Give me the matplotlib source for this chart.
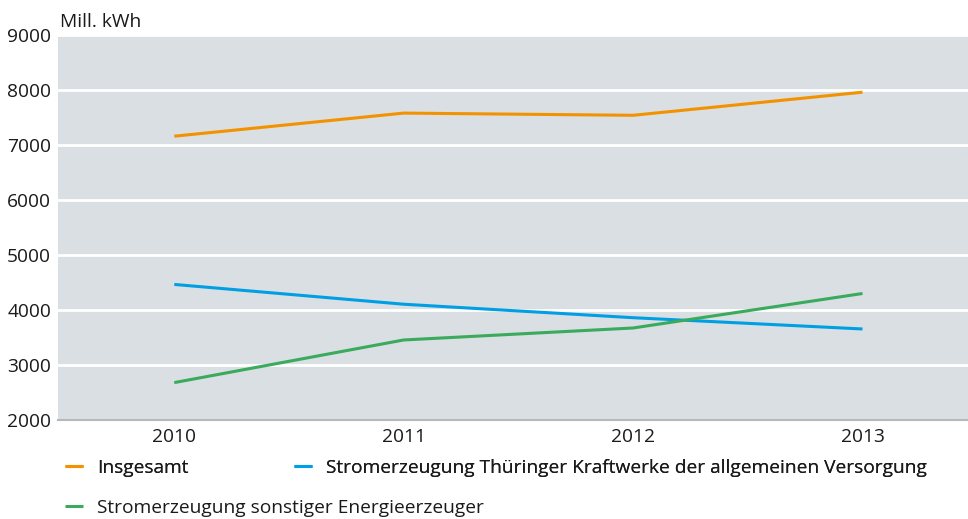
import matplotlib
matplotlib.use("Agg")
import matplotlib.pyplot as plt

years = ["2010", "2011", "2012", "2013"]
insgesamt = [7160, 7580, 7540, 7960]
kraftwerke = [4465, 4105, 3860, 3655]
sonstige = [2680, 3455, 3673, 4300]
labels = ["Insgesamt",
          "Stromerzeugung Thüringer Kraftwerke der allgemeinen Versorgung",
          "Stromerzeugung sonstiger Energieerzeuger"]
colors = ["#f39200", "#009fe3", "#3aaa5c"]

plt.rcParams['font.family'] = ['Open Sans', 'DejaVu Sans']
FS = 13.8

fig = plt.figure(figsize=(9.68, 5.19), dpi=100)
ax = fig.add_axes([58/968, 1-420/519, 1-58/968, (420-35)/519])
ax.set_facecolor("#d9dfe2")
x = list(range(len(years)))
lines = []
for vals, c, lab in zip([insgesamt, kraftwerke, sonstige], colors, labels):
    l, = ax.plot(x, vals, color=c, lw=2.2, label=lab, solid_capstyle='butt')
    lines.append(l)

ax.set_xlim(-0.507, 3.46)
ax.set_ylim(2000, 9000)
ax.set_yticks(range(2000, 9001, 1000))
ax.set_xticks(x)
ax.set_xticklabels(years)
ax.yaxis.grid(True, color="white", lw=2)
ax.set_axisbelow(True)
for s in ["top", "right", "left"]:
    ax.spines[s].set_visible(False)
ax.spines["bottom"].set_color("#b5b9bb")
ax.spines["bottom"].set_linewidth(1.5)
ax.tick_params(axis="both", length=0, labelsize=FS, colors="#1a1a1a")
ax.tick_params(axis="y", pad=5)
ax.tick_params(axis="x", pad=6)
fig.text(60/968, 1-22/519, "Mill. kWh", fontsize=FS, va="center", ha="left", color="#1a1a1a")

common = dict(loc="center left", frameon=False, fontsize=FS, handlelength=0.94,
              handletextpad=0.73, borderaxespad=0, borderpad=0, labelcolor="#1a1a1a")
leg1 = fig.legend([lines[0], lines[1]], [labels[0], labels[1]], ncol=2,
                  bbox_to_anchor=(65/968, 1-468/519), columnspacing=5.5, **common)
leg2 = fig.legend([lines[2]], [labels[2]],
                  bbox_to_anchor=(65/968, 1-508/519), **common)
fig.add_artist(leg1)

fig.savefig("out.png", dpi=100)
